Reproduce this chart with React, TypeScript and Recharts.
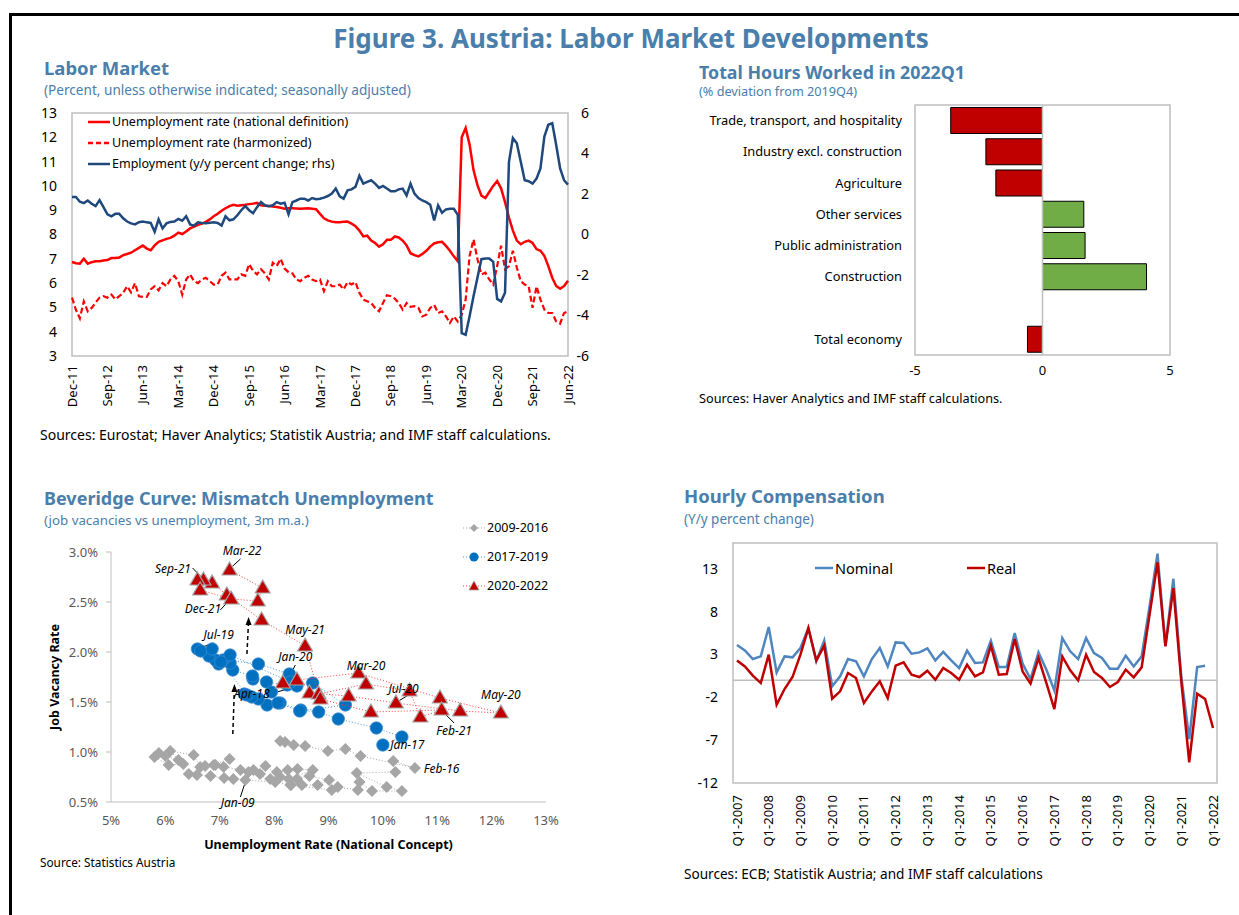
import React from 'react';
import {
  LineChart, Line, XAxis, YAxis, ReferenceArea, ReferenceLine, ReferenceDot,
  BarChart, Bar, Cell, ScatterChart, Scatter,
} from 'recharts';

const FONT = '"Noto Sans", "Open Sans", sans-serif';
const TITLE_BLUE = '#4A7EAB';
const AXIS_GREY = '#BFBFBF';

// ---------- Labor market (monthly, Dec-11 .. Jun-22) ----------
const laborTicks = [0, 9, 18, 27, 36, 45, 54, 63, 72, 81, 90, 99, 108, 117, 126];
const laborTickLabels = ['Dec-11', 'Sep-12', 'Jun-13', 'Mar-14', 'Dec-14', 'Sep-15', 'Jun-16', 'Mar-17',
  'Dec-17', 'Sep-18', 'Jun-19', 'Mar-20', 'Dec-20', 'Sep-21', 'Jun-22'];
const leftTicks = [3, 4, 5, 6, 7, 8, 9, 10, 11, 12, 13];
const rightTicks = [-6, -4, -2, 0, 2, 4, 6];

const unempNational = [
  6.87, 6.82, 6.80, 7.00, 6.80, 6.86, 6.90, 6.90, 6.93, 6.95, 7.03, 7.03,
  7.05, 7.15, 7.20, 7.25, 7.35, 7.45, 7.55, 7.42, 7.35, 7.55, 7.70, 7.76,
  7.82, 7.86, 7.95, 8.08, 8.02, 8.12, 8.25, 8.32, 8.40, 8.45, 8.52, 8.62,
  8.75, 8.85, 8.98, 9.08, 9.17, 9.22, 9.18, 9.20, 9.22, 9.25, 9.27, 9.30,
  9.20, 9.18, 9.17, 9.15, 9.13, 9.10, 9.06, 9.08, 9.08, 9.07, 9.06, 9.07,
  9.08, 9.06, 9.04, 8.85, 8.67, 8.58, 8.53, 8.50, 8.50, 8.52, 8.53, 8.45,
  8.34, 8.16, 7.92, 7.95, 7.75, 7.65, 7.50, 7.60, 7.78, 7.78, 7.92, 7.88,
  7.75, 7.55, 7.23, 7.15, 7.10, 7.20, 7.33, 7.50, 7.63, 7.68, 7.70, 7.53,
  7.33, 7.10, 6.90, 12.00, 12.38, 11.70, 10.65, 10.03, 9.60, 9.50, 9.75, 10.00,
  10.20, 9.90, 9.33, 8.70, 8.16, 7.75, 7.60, 7.70, 7.75, 7.65, 7.40, 7.33,
  7.12, 6.70, 6.22, 5.88, 5.77, 5.88, 6.10,
];
const unempHarmonized = [
  5.40, 4.90, 4.55, 5.25, 4.84, 4.98, 5.20, 5.40, 5.46, 5.40, 5.53, 5.33,
  5.46, 5.60, 5.87, 5.62, 6.00, 5.46, 5.43, 5.43, 5.74, 5.87, 5.70, 6.00,
  5.87, 6.15, 6.30, 6.08, 5.53, 6.15, 6.36, 6.08, 6.00, 6.15, 6.22, 6.08,
  5.94, 5.94, 6.30, 6.43, 6.15, 6.15, 6.15, 6.36, 6.30, 6.78, 6.50, 6.36,
  6.57, 6.40, 6.15, 6.84, 6.70, 7.00, 6.60, 6.45, 6.40, 6.15, 6.08, 6.22,
  6.30, 6.15, 6.08, 6.15, 5.67, 6.08, 5.87, 5.87, 5.94, 5.74, 6.04, 5.94,
  6.04, 5.60, 5.32, 5.25, 5.18, 4.98, 4.84, 5.18, 5.50, 5.46, 5.36, 5.18,
  4.91, 5.18, 5.02, 5.05, 4.98, 4.63, 4.70, 4.98, 5.10, 4.77, 4.84, 4.63,
  4.36, 4.63, 4.42, 4.70, 5.32, 7.12, 7.80, 6.98, 6.36, 6.43, 6.15, 5.94,
  6.70, 7.54, 6.57, 6.70, 7.33, 6.64, 6.08, 5.94, 5.87, 4.98, 5.87, 5.32,
  4.91, 4.77, 4.77, 4.42, 4.33, 4.77, 4.84,
];
const employment = [
  1.85, 1.85, 1.62, 1.55, 1.68, 1.52, 1.40, 1.70, 1.35, 1.00, 0.90, 1.02,
  1.02, 0.80, 0.64, 0.55, 0.50, 0.61, 0.64, 0.60, 0.57, 0.14, 0.75, 0.30,
  0.55, 0.62, 0.64, 0.77, 0.68, 0.90, 0.50, 0.44, 0.60, 0.57, 0.55, 0.58,
  0.60, 0.57, 0.44, 0.90, 0.70, 0.75, 0.95, 1.20, 1.40, 1.20, 1.05, 1.35,
  1.60, 1.44, 1.40, 1.44, 1.60, 1.52, 1.57, 1.00, 1.60, 1.68, 1.77, 1.77,
  1.68, 1.80, 1.74, 1.77, 1.82, 1.90, 2.02, 2.27, 1.88, 1.77, 2.18, 2.23,
  2.35, 2.90, 2.51, 2.60, 2.68, 2.51, 2.30, 2.40, 2.27, 2.13, 2.13, 2.23,
  2.27, 1.93, 2.51, 2.02, 1.80, 1.68, 1.60, 1.47, 0.69, 1.44, 1.07, 1.24,
  1.27, 1.27, 0.97, -4.87, -4.95, -4.04, -3.05, -2.13, -1.22, -1.19, -1.19, -1.35,
  -3.18, -3.30, -2.88, 3.59, 4.76, 4.51, 3.59, 2.68, 2.63, 2.51, 2.76, 3.26,
  4.84, 5.42, 5.50, 4.42, 3.26, 2.68, 2.46,
];

// ---------- Total hours worked ----------
const hoursSectors = ['Trade, transport, and hospitality', 'Industry excl. construction', 'Agriculture',
  'Other services', 'Public administration', 'Construction', '', 'Total economy'];
const hoursValues = [-3.6, -2.22, -1.83, 1.62, 1.67, 4.08, null, -0.59];
const hoursTicks = [-5, 0, 5];

// ---------- Beveridge curve (unemployment %, vacancy rate %) ----------
const bev2009 = [
  [7.53, 0.80], [7.93, 0.73], [8.42, 0.73], [8.31, 0.67], [8.02, 0.70], [7.47, 0.72], [7.25, 0.73], [7.08, 0.74],
  [6.83, 0.76], [6.58, 0.77], [6.43, 0.78], [6.33, 0.88], [6.06, 0.87], [5.80, 0.95], [5.88, 0.99], [6.00, 0.96],
  [6.24, 0.92], [6.09, 1.01], [6.52, 0.97], [6.64, 0.85], [6.73, 0.86], [6.89, 0.87], [7.18, 0.93], [7.07, 0.85],
  [6.92, 0.87], [7.38, 0.82], [7.62, 0.82], [7.74, 0.78], [7.84, 0.86], [8.11, 0.75], [8.25, 0.82], [8.05, 0.80],
  [8.43, 0.83], [8.71, 0.82], [8.27, 0.73], [8.65, 0.76], [9.01, 0.72], [8.80, 0.67], [8.51, 0.67], [8.30, 0.67],
  [9.06, 0.62], [9.17, 0.65], [9.54, 0.62], [9.57, 0.70], [9.80, 0.61], [10.35, 0.61], [10.07, 0.65], [9.52, 0.79],
  [10.23, 0.80], [10.19, 0.91], [10.59, 0.84], [9.59, 0.96], [9.31, 1.03], [8.99, 1.01], [8.57, 1.06], [8.36, 1.07],
  [8.20, 1.10], [8.11, 1.11],
];
const bev2017 = [
  [10.00, 1.07], [10.35, 1.15], [9.88, 1.24], [9.18, 1.33], [8.82, 1.40], [8.49, 1.42], [8.11, 1.49], [7.87, 1.47],
  [7.71, 1.53], [7.59, 1.55], [7.45, 1.58], [8.07, 1.49], [8.47, 1.41], [9.31, 1.47], [8.71, 1.69], [8.24, 1.67],
  [7.86, 1.70], [7.61, 1.73], [7.60, 1.76], [7.24, 1.82], [7.19, 1.89], [7.06, 1.92], [7.71, 1.88], [8.28, 1.78],
  [8.42, 1.66], [8.30, 1.70], [7.19, 1.97], [6.98, 1.88], [6.92, 1.92], [6.80, 1.96], [6.59, 2.03], [6.65, 2.01],
  [6.86, 2.03], [7.02, 1.90], [7.50, 1.57], [7.95, 1.60],
];
const bev2020 = [
  [8.16, 1.69], [8.42, 1.72], [9.55, 1.79], [11.05, 1.54], [12.17, 1.39], [11.42, 1.41], [10.24, 1.49], [9.37, 1.56],
  [8.65, 1.59], [8.82, 1.58], [9.69, 1.68], [10.49, 1.61], [10.69, 1.35], [11.08, 1.42], [9.78, 1.40], [8.85, 1.53],
  [8.57, 2.06], [7.77, 2.32], [7.13, 2.57], [6.86, 2.69], [6.70, 2.72], [6.59, 2.72], [6.64, 2.62], [7.21, 2.53],
  [7.70, 2.51], [7.79, 2.64], [7.18, 2.82],
];
const bevXTicks = [5, 6, 7, 8, 9, 10, 11, 12, 13];
const bevYTicks = [0.5, 1.0, 1.5, 2.0, 2.5, 3.0];
const bevLabels = [
  { text: 'Mar-22', x: 7.41, y: 3.01 }, { text: 'Sep-21', x: 6.14, y: 2.83 }, { text: 'Dec-21', x: 6.69, y: 2.43 },
  { text: 'Jul-19', x: 6.98, y: 2.17 }, { text: 'May-21', x: 8.57, y: 2.22 }, { text: 'Jan-20', x: 8.39, y: 1.95 },
  { text: 'Apr-18', x: 7.59, y: 1.58 }, { text: 'Mar-20', x: 9.69, y: 1.86 }, { text: 'Jul-20', x: 10.38, y: 1.63 },
  { text: 'May-20', x: 12.17, y: 1.57 }, { text: 'Feb-21', x: 11.31, y: 1.21 }, { text: 'Jan-17', x: 10.45, y: 1.07 },
  { text: 'Feb-16', x: 11.08, y: 0.83 }, { text: 'Jan-09', x: 7.33, y: 0.49 },
];
const bevLeaders = [
  [[7.38, 2.93], [7.22, 2.85]], [[6.50, 2.84], [6.68, 2.74]], [[7.01, 2.42], [7.18, 2.52]],
  [[6.89, 2.09], [6.63, 2.04]], [[8.39, 1.87], [8.20, 1.67]], [[7.93, 1.58], [8.24, 1.63]],
  [[10.50, 1.58], [10.26, 1.50]], [[11.31, 1.29], [11.11, 1.40]], [[7.38, 0.55], [7.53, 0.80]],
];
const bevArrows = [[[7.24, 1.18], [7.27, 1.64]], [[7.50, 1.98], [7.53, 2.31]]];

// ---------- Hourly compensation (quarterly, Q1-2007 .. Q1-2022) ----------
const hourlyTicks = [0, 4, 8, 12, 16, 20, 24, 28, 32, 36, 40, 44, 48, 52, 56, 60];
const hourlyTickLabels = ['Q1-2007', 'Q1-2008', 'Q1-2009', 'Q1-2010', 'Q1-2011', 'Q1-2012', 'Q1-2013', 'Q1-2014',
  'Q1-2015', 'Q1-2016', 'Q1-2017', 'Q1-2018', 'Q1-2019', 'Q1-2020', 'Q1-2021', 'Q1-2022'];
const hourlyYTicks = [-12, -7, -2, 3, 8, 13];
const nominal = [
  4.1, 3.47, 2.46, 2.77, 6.2, 0.9, 2.77, 2.66, 3.75, 6.08, 2.2, 4.64,
  -0.72, 0.44, 2.46, 2.2, 0.44, 2.46, 3.75, 1.6, 4.4, 4.33, 3.09, 3.24,
  3.7, 2.3, 3.3, 2.3, 1.41, 3.44, 2.0, 2.07, 4.6, 1.53, 1.53, 5.5,
  1.92, 0.13, 3.24, 1.22, -1.19, 4.91, 3.36, 2.46, 4.91, 3.16, 2.58, 1.34,
  1.34, 2.85, 1.6, 2.77, 8.6, 14.75, 4.0, 11.83, 0.44, -6.87, 1.53, 1.69,
  null,
];
const real = [
  2.3, 1.6, 0.52, -0.34, 2.97, -2.86, -1.04, 0.36, 2.97, 6.08, 2.3, 4.02,
  -2.16, -1.31, 0.83, 0.25, -2.67, -1.31, -0.14, -2.09, 1.69, 2.07, 0.64, 0.36,
  1.1, 0.05, 1.41, 0.83, 0.05, 1.8, 0.44, 0.9, 4.02, 0.64, 0.71, 4.8,
  1.02, -0.41, 2.58, -0.34, -3.37, 2.77, 1.14, -0.02, 2.97, 0.95, 0.25, -0.8,
  -0.22, 1.22, 0.33, 1.49, 7.63, 13.74, 3.94, 10.74, -0.14, -9.59, -1.58, -2.2,
  -5.58,
];

const laborData = unempNational.map((v, i) => ({ i, nat: v, harm: unempHarmonized[i], emp: employment[i] }));
const hoursData = hoursSectors.map((name, i) => ({ name, value: hoursValues[i] }));
const hourlyData = real.map((v, i) => ({ i, nominal: nominal[i], real: v }));
const toPts = (arr: number[][]) => arr.map(([x, y]) => ({ x, y }));

// ---------- small helpers ----------
const Txt = ({ x, y, size, color = '#000', bold = false, children }: any) => (
  <div style={{
    position: 'absolute', left: x, top: y - size * 0.45, fontSize: size, lineHeight: 1,
    color, fontWeight: bold ? 700 : 400, whiteSpace: 'nowrap',
  }}>{children}</div>
);

const RotatedTick = ({ x, y, payload, labels, step, gap }: any) => {
  const label = labels[Math.round(payload.value / step)];
  const ty = y + gap;
  return (
    <text x={x} y={ty} transform={`rotate(-90, ${x}, ${ty})`} textAnchor="end" dy="0.35em"
      fontSize={13} fill="#000" fontFamily={FONT}>{label}</text>
  );
};

const LegendRow = ({ color, dash, width = 2.5, label, marker, fontSize = 12.5, lineW = 22 }: any) => (
  <div style={{ display: 'flex', alignItems: 'center', height: 21, fontSize, whiteSpace: 'nowrap' }}>
    <svg width={lineW} height={14} style={{ marginRight: 2 }}>
      <line x1={0} y1={7} x2={lineW} y2={7} stroke={color} strokeWidth={width} strokeDasharray={dash} />
      {marker}
    </svg>
    <span>{label}</span>
  </div>
);

const Diamond = (p: any) => (
  <polygon points={`${p.cx},${p.cy - 6} ${p.cx + 6},${p.cy} ${p.cx},${p.cy + 6} ${p.cx - 6},${p.cy}`} fill="#A6A6A6" />
);
const BlueDot = (p: any) => <circle cx={p.cx} cy={p.cy} r={6.2} fill="#0070C0" stroke="#3C8DD0" strokeWidth={0.8} />;
const RedTri = (p: any) => (
  <polygon points={`${p.cx},${p.cy - 8} ${p.cx + 7.5},${p.cy + 5} ${p.cx - 7.5},${p.cy + 5}`}
    fill="#C00000" stroke="#A6A6A6" strokeWidth={1.2} />
);

const LabelShape = (text: string) => (p: any) => (
  <text x={p.cx} y={p.cy} textAnchor="middle" dy="0.35em" fontSize={12} fontStyle="italic" fill="#000" fontFamily={FONT}>{text}</text>
);
const ArrowHead = (p: any) => (
  <polygon points={`${p.cx},${p.cy - 4} ${p.cx + 3},${p.cy + 4} ${p.cx - 3},${p.cy + 4}`} fill="#000" />
);

const VacancyLabel = ({ viewBox }: any) => {
  const x = viewBox.x + 15;
  const y = viewBox.y + viewBox.height / 2;
  return (
    <text x={x} y={y} transform={`rotate(-90, ${x}, ${y})`} textAnchor="middle" dy="0.35em"
      fontSize={12.5} fontWeight={700} fill="#000" fontFamily={FONT}>Job Vacancy Rate</text>
  );
};
const UnempLabel = ({ viewBox }: any) => (
  <text x={viewBox.x + viewBox.width / 2} y={viewBox.y + 43} textAnchor="middle" dy="0.35em"
    fontSize={12.5} fontWeight={700} fill="#000" fontFamily={FONT}>Unemployment Rate (National Concept)</text>
);

export default function App() {
  return (
    <div style={{ position: 'relative', width: 1239, height: 915, fontFamily: FONT, overflow: 'hidden', background: '#fff', color: '#000' }}>
      <style>{`body{margin:0}`}</style>
      <div style={{ position: 'absolute', left: 9, top: 13, width: 1240, height: 910, borderTop: '3px solid #000', borderLeft: '3px solid #000' }} />

      <div style={{ position: 'absolute', left: 131, width: 1000, top: 37 - 26 * 0.45, textAlign: 'center', fontSize: 26, lineHeight: 1, fontWeight: 700, color: TITLE_BLUE }}>
        Figure 3. Austria: Labor Market Developments
      </div>

      {/* Labor market */}
      <Txt x={44} y={67} size={18.5} bold color={TITLE_BLUE}>Labor Market</Txt>
      <Txt x={44} y={89} size={13.6} color={TITLE_BLUE}>(Percent, unless otherwise indicated; seasonally adjusted)</Txt>
      <div style={{ position: 'absolute', left: 40, top: 100 }}>
        <LineChart width={568} height={316} data={laborData} margin={{ top: 13, right: 0, left: 0, bottom: 0 }}>
          <XAxis dataKey="i" type="number" domain={[0, 126]} ticks={laborTicks} interval={0} height={60}
            axisLine={false} tickLine={false} tickSize={0} tickMargin={0}
            tick={<RotatedTick labels={laborTickLabels} step={9} gap={9} />} />
          <YAxis yAxisId="left" domain={[3, 13]} ticks={leftTicks} interval={0} width={32} axisLine={false}
            tickLine={false} tickSize={0} tickMargin={15} tick={{ fontSize: 14, fill: '#000' }} />
          <YAxis yAxisId="right" orientation="right" domain={[-6, 6]} ticks={rightTicks} interval={0} width={40}
            axisLine={false} tickLine={false} tickSize={0} tickMargin={21} tick={{ fontSize: 14, fill: '#000', textAnchor: 'end' }} />
          <ReferenceArea yAxisId="left" x1={0} x2={126} y1={3} y2={13} fill="none" stroke={AXIS_GREY} strokeWidth={1.5} />
          <Line yAxisId="left" dataKey="nat" stroke="#FF0000" strokeWidth={2.5} dot={false} isAnimationActive={false} />
          <Line yAxisId="left" dataKey="harm" stroke="#FF0000" strokeWidth={2.2} strokeDasharray="6 3" dot={false} isAnimationActive={false} />
          <Line yAxisId="right" dataKey="emp" stroke="#1F497D" strokeWidth={2.5} dot={false} isAnimationActive={false} />
        </LineChart>
      </div>
      <div style={{ position: 'absolute', left: 88, top: 111 }}>
        <LegendRow color="#FF0000" label="Unemployment rate (national definition)" />
        <LegendRow color="#FF0000" dash="5 3" label="Unemployment rate (harmonized)" />
        <LegendRow color="#1F497D" label="Employment (y/y percent change; rhs)" />
      </div>
      <Txt x={40} y={434} size={14}>Sources: Eurostat; Haver Analytics; Statistik Austria; and IMF staff calculations.</Txt>

      {/* Total hours worked */}
      <Txt x={699} y={72} size={17.8} bold color={TITLE_BLUE}>Total Hours Worked in 2022Q1</Txt>
      <Txt x={699} y={91} size={12.7} color={TITLE_BLUE}>(% deviation from 2019Q4)</Txt>
      <div style={{ position: 'absolute', left: 680, top: 97 }}>
        <BarChart width={500} height={288} data={hoursData} layout="vertical" barCategoryGap="8%"
          margin={{ top: 8, right: 10, left: 0, bottom: 0 }}>
          <XAxis type="number" domain={[-5, 5]} ticks={hoursTicks} interval={0} height={30} axisLine={false}
            tickLine={false} tickSize={0} tickMargin={11} tick={{ fontSize: 13, fill: '#000' }} />
          <YAxis type="category" dataKey="name" width={235} axisLine={false} tickLine={false} tickSize={0}
            tickMargin={13} interval={0} tick={{ fontSize: 12.8, fill: '#000' }} />
          <ReferenceArea x1={-5} x2={5} fill="none" stroke={AXIS_GREY} strokeWidth={1.5} />
          <ReferenceLine x={0} stroke={AXIS_GREY} strokeWidth={1.5} />
          <Bar dataKey="value" stroke="#000" strokeWidth={1} isAnimationActive={false}>
            {hoursData.map((d, i) => (
              <Cell key={i} fill={(d.value ?? 0) < 0 ? '#C00000' : '#70AD47'} />
            ))}
          </Bar>
        </BarChart>
      </div>
      <Txt x={699} y={398} size={12.7}>Sources: Haver Analytics and IMF staff calculations.</Txt>

      {/* Beveridge curve */}
      <Txt x={44} y={497} size={18} bold color={TITLE_BLUE}>Beveridge Curve: Mismatch Unemployment</Txt>
      <Txt x={44} y={520} size={13.3} color={TITLE_BLUE}>(job vacancies vs unemployment, 3m m.a.)</Txt>
      <div style={{ position: 'absolute', left: 40, top: 505 }}>
        <ScatterChart width={521} height={353} margin={{ top: 47, right: 15, left: 0, bottom: 0 }}>
          <XAxis type="number" dataKey="x" domain={[5, 13]} ticks={bevXTicks} interval={0} height={56}
            axisLine={{ stroke: AXIS_GREY }} tickLine={false} tickSize={0} tickMargin={14}
            tickFormatter={(v) => `${v}%`} tick={{ fontSize: 13, fill: '#595959' }} label={<UnempLabel />} />
          <YAxis type="number" dataKey="y" domain={[0.5, 3.0]} ticks={bevYTicks} interval={0} width={71}
            axisLine={{ stroke: AXIS_GREY }} tickLine={{ stroke: AXIS_GREY }} tickSize={5} tickMargin={8}
            tickFormatter={(v) => `${v.toFixed(1)}%`} tick={{ fontSize: 13, fill: '#595959' }} label={<VacancyLabel />} />
          <Scatter data={toPts(bev2009)} shape={Diamond} line={{ stroke: '#A6A6A6', strokeWidth: 1, strokeDasharray: '1 2' }} isAnimationActive={false} />
          <Scatter data={toPts(bev2017)} shape={BlueDot} line={{ stroke: '#4A9BDB', strokeWidth: 1, strokeDasharray: '1 2' }} isAnimationActive={false} />
          <Scatter data={toPts(bev2020)} shape={RedTri} line={{ stroke: '#FF4040', strokeWidth: 1, strokeDasharray: '1 2' }} isAnimationActive={false} />
          {bevLeaders.map(([a, b], i) => (
            <ReferenceLine key={`l${i}`} segment={[{ x: a[0], y: a[1] }, { x: b[0], y: b[1] }]} stroke="#000" strokeWidth={1} ifOverflow="visible" />
          ))}
          {bevArrows.map(([a, b], i) => (
            <ReferenceLine key={`a${i}`} segment={[{ x: a[0], y: a[1] }, { x: b[0], y: b[1] }]} stroke="#000" strokeWidth={1.5} strokeDasharray="4 3" ifOverflow="visible" />
          ))}
          {bevArrows.map(([, b], i) => (
            <ReferenceDot key={`h${i}`} x={b[0]} y={b[1]} ifOverflow="visible" shape={ArrowHead} />
          ))}
          {bevLabels.map((l) => (
            <ReferenceDot key={l.text} x={l.x} y={l.y} ifOverflow="visible" shape={LabelShape(l.text)} />
          ))}
        </ScatterChart>
      </div>
      <div style={{ position: 'absolute', left: 463, top: 517 }}>
        <LegendRow color="#A6A6A6" dash="1 2" width={1} lineW={22} label="2009-2016" fontSize={12.5}
          marker={<polygon points="11,3 15,7 11,11 7,7" fill="#A6A6A6" />} />
        <div style={{ height: 8 }} />
        <LegendRow color="#4A9BDB" dash="1 2" width={1} lineW={22} label="2017-2019" fontSize={12.5}
          marker={<circle cx={11} cy={7} r={4.5} fill="#0070C0" />} />
        <div style={{ height: 8 }} />
        <LegendRow color="#FF4040" dash="1 2" width={1} lineW={22} label="2020-2022" fontSize={12.5}
          marker={<polygon points="11,2 16,11 6,11" fill="#C00000" stroke="#A6A6A6" strokeWidth={0.8} />} />
      </div>
      <Txt x={40} y={862} size={11.8}>Source: Statistics Austria</Txt>

      {/* Hourly compensation */}
      <Txt x={684} y={495} size={18.5} bold color={TITLE_BLUE}>Hourly Compensation</Txt>
      <Txt x={684} y={519} size={13.5} color={TITLE_BLUE}>(Y/y percent change)</Txt>
      <div style={{ position: 'absolute', left: 680, top: 535 }}>
        <LineChart width={547} height={318} data={hourlyData} margin={{ top: 8, right: 10, left: 0, bottom: 0 }}>
          <XAxis dataKey="i" type="number" domain={[-0.5, 60.5]} ticks={hourlyTicks} interval={0} height={70}
            axisLine={false} tickLine={false} tickSize={0} tickMargin={0}
            tick={<RotatedTick labels={hourlyTickLabels} step={4} gap={12} />} />
          <YAxis domain={[-12, 16]} ticks={hourlyYTicks} interval={0} width={53} axisLine={false}
            tickLine={false} tickSize={0} tickMargin={15} tick={{ fontSize: 14, fill: '#000' }} />
          <ReferenceArea x1={-0.5} x2={60.5} y1={-12} y2={16} fill="none" stroke={AXIS_GREY} strokeWidth={1.5} />
          <ReferenceLine y={0} stroke={AXIS_GREY} strokeWidth={1.5} />
          <Line dataKey="nominal" stroke="#4F86C0" strokeWidth={2.5} dot={false} isAnimationActive={false} />
          <Line dataKey="real" stroke="#C00000" strokeWidth={2.5} dot={false} isAnimationActive={false} />
        </LineChart>
      </div>
      <div style={{ position: 'absolute', left: 815, top: 557 }}>
        <LegendRow color="#4F86C0" label="Nominal" fontSize={14.5} lineW={18} />
      </div>
      <div style={{ position: 'absolute', left: 967, top: 557 }}>
        <LegendRow color="#C00000" label="Real" fontSize={14.5} lineW={18} />
      </div>
      <Txt x={684} y={873} size={13.6}>Sources: ECB; Statistik Austria; and IMF staff calculations</Txt>
    </div>
  );
}
